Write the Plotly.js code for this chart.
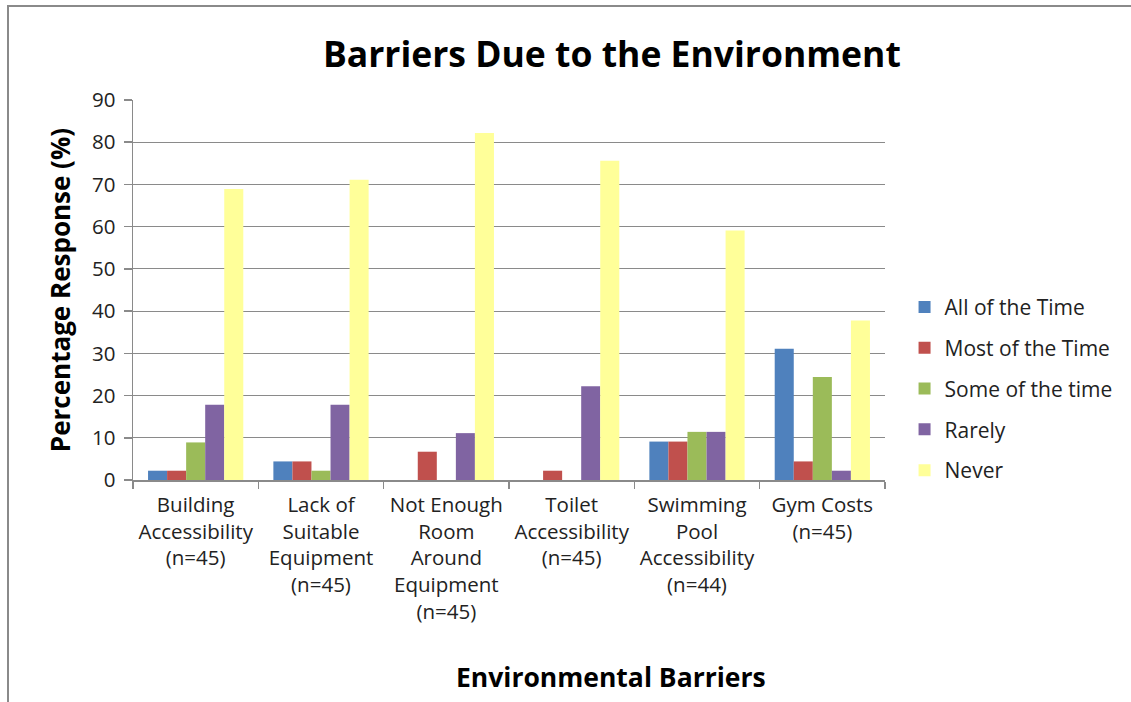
<!DOCTYPE html>
<html>
<head>
<meta charset="utf-8">
<script src="https://cdn.plot.ly/plotly-3.0.1.min.js"></script>
<style>
  html, body { margin: 0; padding: 0; background: #fff; }
  #wrap { position: relative; width: 1131px; height: 702px; overflow: hidden; }
  #chart { position: absolute; left: 0; top: 0; width: 1131px; height: 702px; }
  #frame { position: absolute; left: 7px; top: 5px; width: 1200px; height: 800px;
           border-left: 2px solid #8a8a8a; border-top: 2px solid #8a8a8a; pointer-events: none; }
</style>
</head>
<body>
<div id="wrap">
  <div id="chart"></div>
  <div id="frame"></div>
</div>
<script>
// Barrier categories (x axis), with sample sizes
const categories = [
  "Building<br>Accessibility<br>(n=45)",
  "Lack of<br>Suitable<br>Equipment<br>(n=45)",
  "Not Enough<br>Room<br>Around<br>Equipment<br>(n=45)",
  "Toilet<br>Accessibility<br>(n=45)",
  "Swimming<br>Pool<br>Accessibility<br>(n=44)",
  "Gym Costs<br>(n=45)"
];

// Percentage response per frequency answer
const allOfTheTime  = [2.2, 4.4, 0, 0, 9.1, 31.1];
const mostOfTheTime = [2.2, 4.4, 6.7, 2.2, 9.1, 4.4];
const someOfTheTime = [8.9, 2.2, 0, 0, 11.4, 24.4];
const rarely        = [17.8, 17.8, 11.1, 22.2, 11.4, 2.2];
const never         = [68.9, 71.1, 82.2, 75.6, 59.1, 37.8];

const seriesNames  = ["All of the Time", "Most of the Time", "Some of the time", "Rarely", "Never"];
const seriesValues = [allOfTheTime, mostOfTheTime, someOfTheTime, rarely, never];
const seriesColors = ["#4F81BD", "#C0504D", "#9BBB59", "#8064A2", "#FFFF99"];

const yTicks = [0, 10, 20, 30, 40, 50, 60, 70, 80, 90];

const FONT = "Open Sans, Lato, sans-serif";

const traces = seriesNames.map((name, i) => ({
  type: "bar",
  name: name,
  x: categories,
  y: seriesValues[i],
  legendgroup: "g" + i,
  marker: { color: seriesColors[i], line: { width: 0 } },
  hoverinfo: "x+y+name"
}));

const layout = {
  width: 1131,
  height: 702,
  margin: { l: 133, r: 246, t: 100, b: 222, pad: 0 },
  paper_bgcolor: "#ffffff",
  plot_bgcolor: "#ffffff",
  barmode: "group",
  bargap: 0.24,
  bargroupgap: 0,
  font: { family: FONT, color: "#222222", size: 20 },
  title: {
    text: "<b>Barriers Due to the Environment</b>",
    font: { family: FONT, size: 35.5, color: "#000000" },
    x: 0.541, xanchor: "center",
    y: 0.922, yanchor: "middle"
  },
  xaxis: {
    type: "category",
    showgrid: false,
    showline: true,
    linecolor: "#8a8a8a",
    linewidth: 1.5,
    ticks: "outside",
    tickson: "boundaries",
    ticklen: 7,
    tickcolor: "#8a8a8a",
    tickwidth: 1.5,
    ticklabelstandoff: 6,
    tickfont: { family: FONT, size: 20.5, color: "#222222" },
    automargin: false,
    fixedrange: true
  },
  yaxis: {
    range: [0, 90],
    tickvals: yTicks,
    showgrid: true,
    gridcolor: "#8a8a8a",
    gridwidth: 1.2,
    showline: true,
    linecolor: "#8a8a8a",
    linewidth: 1.5,
    ticks: "outside",
    ticklen: 8,
    tickcolor: "#8a8a8a",
    tickwidth: 1.5,
    ticklabelstandoff: 4,
    zeroline: false,
    tickfont: { family: FONT, size: 20.5, color: "#222222" },
    title: {
      text: "<b>Percentage Response (%)</b>",
      font: { family: FONT, size: 26, color: "#000000" },
      standoff: 14
    },
    automargin: false,
    fixedrange: true
  },
  // x-axis title sits centred under the whole chart (plot + legend)
  annotations: [{
    text: "<b>Environmental Barriers</b>",
    xref: "paper", yref: "paper",
    x: 0.636, y: -0.518,
    xanchor: "center", yanchor: "middle",
    showarrow: false,
    font: { family: FONT, size: 26.5, color: "#000000" }
  }],
  legend: {
    x: 1.026, xanchor: "left",
    y: 0.24, yanchor: "middle",
    font: { family: FONT, size: 21, color: "#222222" },
    tracegroupgap: 10.5,
    itemwidth: 30,
    bgcolor: "rgba(0,0,0,0)"
  },
  showlegend: true
};

Plotly.newPlot("chart", traces, layout, { staticPlot: true, displayModeBar: false });
</script>
</body>
</html>
